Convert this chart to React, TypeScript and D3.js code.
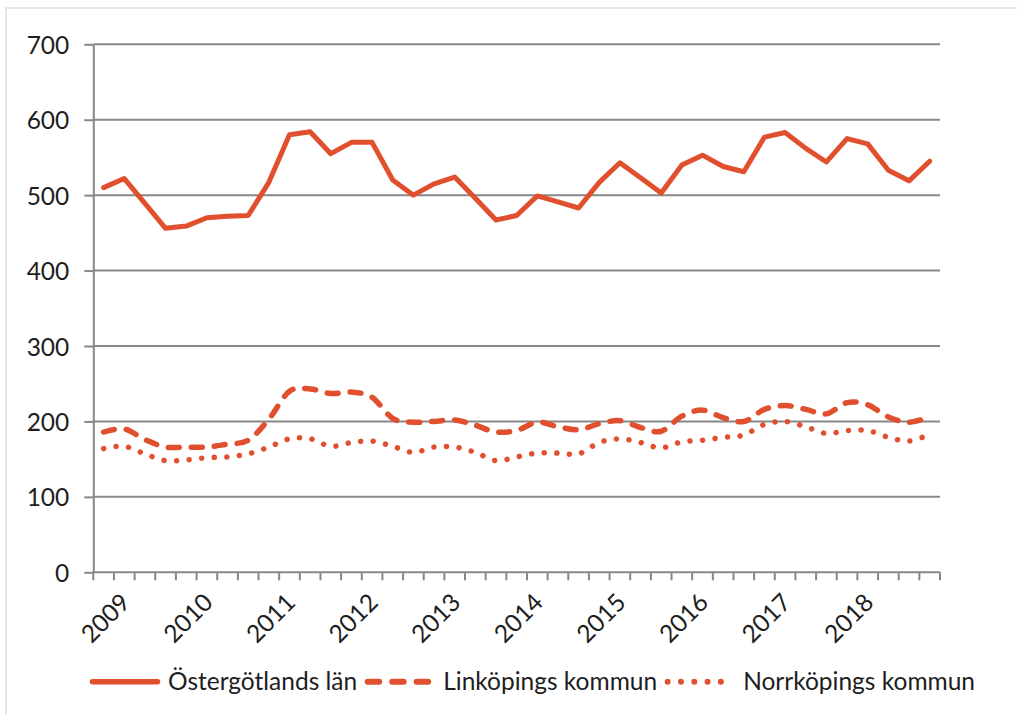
import React, { useRef, useEffect } from "react";
import * as d3 from "d3";

// quarterly categories, 2009 Q1 .. 2019 Q1
const categories = [
  "2009K1", "2009K2", "2009K3", "2009K4",
  "2010K1", "2010K2", "2010K3", "2010K4",
  "2011K1", "2011K2", "2011K3", "2011K4",
  "2012K1", "2012K2", "2012K3", "2012K4",
  "2013K1", "2013K2", "2013K3", "2013K4",
  "2014K1", "2014K2", "2014K3", "2014K4",
  "2015K1", "2015K2", "2015K3", "2015K4",
  "2016K1", "2016K2", "2016K3", "2016K4",
  "2017K1", "2017K2", "2017K3", "2017K4",
  "2018K1", "2018K2", "2018K3", "2018K4",
  "2019K1",
];

const yearLabels = ["2009", "2010", "2011", "2012", "2013", "2014", "2015", "2016", "2017", "2018"];

const ostergotland = [
  510, 522, 489, 456, 459, 470, 472, 473, 517, 580, 584, 555, 570, 570, 520, 500,
  515, 524, 496, 467, 473, 499, 491, 483, 517, 543, 523, 503, 540, 553, 538, 531,
  577, 583, 562, 544, 575, 568, 533, 519, 545,
];

const linkoping = [
  186, 190, 176, 166, 166, 166, 170, 175, 203, 240, 243, 237, 239, 232, 204, 199,
  200, 202, 195, 186, 188, 199, 193, 189, 197, 201, 192, 187, 207, 215, 205, 200,
  216, 221, 216, 210, 225, 222, 206, 199, 206,
];

const norrkoping = [
  164, 167, 157, 148, 149, 152, 153, 157, 166, 177, 177, 167, 172, 174, 167, 159,
  166, 166, 159, 148, 153, 158, 158, 157, 172, 177, 172, 165, 173, 175, 179, 182,
  196, 200, 193, 184, 188, 188, 179, 174, 183,
];

const yTicks = [0, 100, 200, 300, 400, 500, 600, 700];

const seriesNames = ["Östergötlands län", "Linköpings kommun", "Norrköpings kommun"];

export default function App() {
  const chartRef = useRef<SVGSVGElement>(null);

  useEffect(() => {
    if (!chartRef.current) return;
    const svg = d3.select(chartRef.current);
    svg.selectAll("*").remove();

    const font = "Lato, 'Open Sans', sans-serif";
    const fontSize = 24.5;
    const color = "#e1502e";
    const grid = "#878787";
    const textColor = "#1e1e1e";

    const left = 93.3;
    const right = 940;
    const top = 44.3;
    const bottom = 572.3;

    const xScale = d3
      .scalePoint<string>()
      .domain(categories)
      .range([left, right])
      .padding(0.5);
    const step = xScale.step();

    const yScale = d3.scaleLinear().domain([0, 700]).range([bottom, top]);

    // chart frame
    svg.append("rect")
      .attr("x", 6)
      .attr("y", 8)
      .attr("width", 1040)
      .attr("height", 740)
      .attr("fill", "#fff")
      .attr("stroke", "#d6d6d6")
      .attr("stroke-width", 1.2);

    // horizontal gridlines
    svg.append("g")
      .selectAll("line")
      .data(yTicks)
      .enter()
      .append("line")
      .attr("x1", left)
      .attr("x2", right)
      .attr("y1", (d) => yScale(d))
      .attr("y2", (d) => yScale(d))
      .attr("stroke", grid)
      .attr("stroke-width", 2);

    // y axis
    const yAxis = svg.append("g")
      .attr("transform", `translate(${left},0)`)
      .call(d3.axisLeft(yScale).tickValues(yTicks).tickSize(9).tickSizeOuter(0).tickPadding(15));
    yAxis.select(".domain").attr("stroke", grid).attr("stroke-width", 2);
    yAxis.selectAll(".tick line").attr("stroke", grid).attr("stroke-width", 2);
    yAxis.selectAll("text")
      .attr("font-family", font)
      .attr("font-size", fontSize)
      .attr("fill", textColor)
      .attr("dy", "0.37em");

    // x axis tick marks on category boundaries
    svg.append("g")
      .selectAll("line")
      .data(d3.range(categories.length + 1))
      .enter()
      .append("line")
      .attr("x1", (i) => left + i * step)
      .attr("x2", (i) => left + i * step)
      .attr("y1", bottom)
      .attr("y2", bottom + 8)
      .attr("stroke", grid)
      .attr("stroke-width", 2);

    // year labels, one every fourth quarter
    svg.append("g")
      .selectAll("text")
      .data(yearLabels)
      .enter()
      .append("text")
      .attr("transform", (d) => {
        const cx = (xScale(`${d}K1`) as number) + 28;
        return `translate(${cx},604) rotate(-45)`;
      })
      .attr("text-anchor", "end")
      .attr("font-family", font)
      .attr("font-size", fontSize)
      .attr("fill", textColor)
      .text((d) => d);

    const points = (vals: number[]) => vals.map((v, i) => [xScale(categories[i]) as number, yScale(v)] as [number, number]);

    const straight = d3.line();
    const smooth = d3.line().curve(d3.curveCatmullRom.alpha(0));

    const styles = [
      { dash: null, width: 5, path: straight },
      { dash: "11 12", width: 5.5, path: smooth },
      { dash: "0.01 12.6", width: 5.5, path: smooth },
    ];
    const allSeries = [ostergotland, linkoping, norrkoping];

    allSeries.forEach((vals, k) => {
      const p = svg.append("path")
        .attr("d", styles[k].path(points(vals)))
        .attr("fill", "none")
        .attr("stroke", color)
        .attr("stroke-width", styles[k].width)
        .attr("stroke-linejoin", "round")
        .attr("stroke-linecap", "round");
      if (styles[k].dash) p.attr("stroke-dasharray", styles[k].dash);
    });

    // legend
    const legend = svg.append("g");
    let lx = 90;
    const ly = 681.7;
    seriesNames.forEach((name, k) => {
      const s = legend.append("line")
        .attr("x1", lx + 2.5)
        .attr("x2", lx + 67.5)
        .attr("y1", ly)
        .attr("y2", ly)
        .attr("stroke", color)
        .attr("stroke-width", styles[k].width + 0.5)
        .attr("stroke-linecap", "round");
      if (styles[k].dash) s.attr("stroke-dasharray", k === 1 ? "11.5 13" : "0.01 13.3");
      lx += 78;
      const t = legend.append("text")
        .attr("x", lx)
        .attr("y", 689.5)
        .attr("font-family", font)
        .attr("font-size", fontSize)
        .attr("fill", textColor)
        .text(name);
      const w = (t.node() as SVGTextElement).getComputedTextLength();
      lx += w + 8;
    });
  }, []);

  return (
    <svg
      ref={chartRef}
      width={1017}
      height={715}
      style={{ position: "absolute", left: 0, top: 0, background: "#fff" }}
    />
  );
}
